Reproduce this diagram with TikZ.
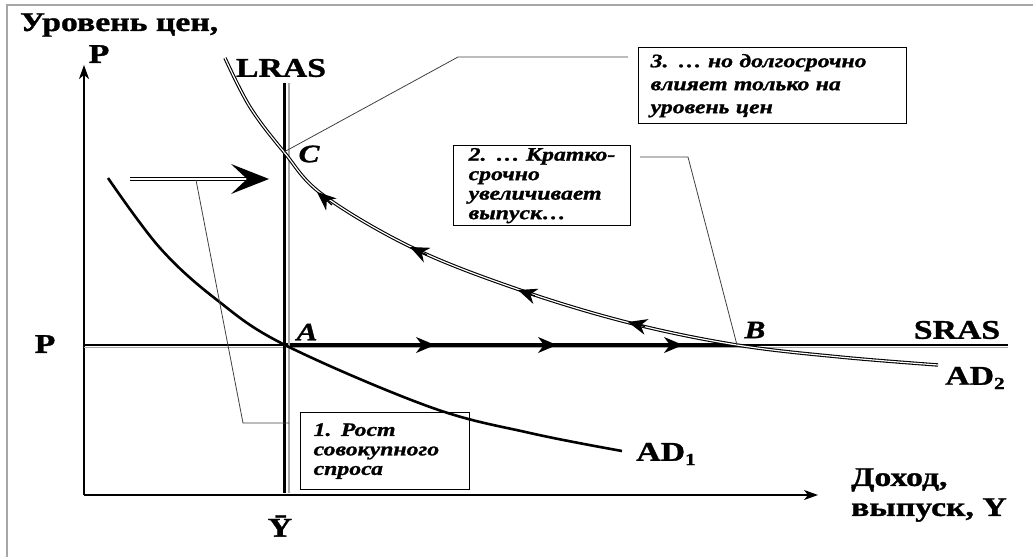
\documentclass[tikz,border=0pt]{standalone}
\usepackage{fontspec}
\setmainfont{Liberation Serif}[FakeStretch=1.25, BoldFeatures={FakeBold=1.2}, BoldItalicFeatures={FakeBold=1.2}]
\usetikzlibrary{arrows.meta}
\begin{document}
\begin{tikzpicture}[x=1pt,y=-1pt,
  lbl/.style={font=\fontsize{27}{30}\selectfont\bfseries, inner sep=0pt},
  ptl/.style={font=\fontsize{25}{25}\selectfont\bfseries\itshape, inner sep=0pt},
  callbox/.style={draw, line width=1.3pt, anchor=north west, align=left, inner ysep=0pt},
  cfont/.style={font=\fontsize{19}{19.5}\selectfont\bfseries\itshape},
  leader/.style={draw=black!75, line width=0.8pt},
  axis/.style={line width=1.6pt, -{Stealth[length=14pt,width=10pt,inset=4pt]}},
  flow/.style={line width=1.3pt, -{Stealth[length=19pt,width=16pt,inset=6pt]}},
  dline/.style={double=white, double distance=1.2pt, line width=1.1pt}
]
\useasboundingbox (0,0) rectangle (1033,557);
% frame
\draw[gray!70, line width=1.2pt] (7,557) -- (7,5) -- (1033,5);

% coordinates
\coordinate (O) at (84,495);
\coordinate (A) at (285,345);
\coordinate (B) at (737,345);
\coordinate (C) at (284,152);

% axes
\draw[axis] (O) -- (84,65);
\draw[axis] (O) -- (818,495);

% SRAS
\draw[gray!70, line width=1.2pt] (84,347.5) -- (1008,347.5);
\draw[black, line width=2pt] (84,344.5) -- (1008,344.5);
\draw[black, line width=3.4pt] (A) -- (B);

% LRAS
\draw[gray!70, line width=1.2pt] (289,83) -- (289,493);
\draw[black, line width=3.4pt] (284.5,83) -- (284.5,493);

% AD1
\draw[line width=2.6pt] plot[smooth, tension=0.6] coordinates {(108,178) (160,248) (217,300) (285,345) (430,407) (530,433) (622,451)};

% AD2
\draw[dline] plot[smooth, tension=0.6] coordinates {(225,58) (250,107) (284,152) (323,195) (413,248) (520,290) (630,323) (737,345) (840,357) (938,365)};

% arrows along AD2
\draw[flow] (332,205) -- (317,192);
\draw[flow] (427,255) -- (410,247);
\draw[flow] (535,296) -- (518,290);
\draw[flow] (645,326.5) -- (628,322);

% arrows along SRAS
\draw[flow] (412,345) -- (435,345);
\draw[flow] (534,345) -- (557,345);
\draw[flow] (660,345) -- (683,345);

% big shift arrow
\draw[dline, line width=1.1pt, double distance=2.4pt] (130,179) -- (248,179);
\fill (269,179) -- (231,164) -- (247,179) -- (231,194) -- cycle;

% labels
\node[lbl, anchor=west] (ylab) at (20,25) {Уровень цен,};
\node[lbl] (ptop) at (99,54) {P};
\node[lbl] (lras) at (281,68) {LRAS};
\node[ptl] (clab) at (309,154) {C};
\node[ptl] (alab) at (307,332) {A};
\node[ptl] (blab) at (755,330) {B};
\node[lbl] (sras) at (957,330) {SRAS};
\node[lbl] (ad2) at (975,378) {AD\raisebox{-0.35ex}{\fontsize{17}{17}\selectfont 2}};
\node[lbl] (ad1) at (666,454) {AD\raisebox{-0.35ex}{\fontsize{17}{17}\selectfont 1}};
\node[lbl] (pleft) at (45,344) {P};
\node[lbl] (ybar) at (280,526) {\=Y};
\node[lbl, anchor=west, align=left] (xlab) at (851,495) {Доход,\\выпуск, Y};

% callouts
\node[callbox, cfont, minimum width=169pt, minimum height=77pt, text width=143pt, inner xsep=13pt] (box1) at (300,412)
  {1. Рост\\совокупного\\спроса};
\node[callbox, cfont, minimum width=177pt, minimum height=80pt, text width=147pt, inner xsep=15pt] (box2) at (453,145)
  {2. … Кратко-\\срочно\\увеличивает\\выпуск…};
\node[callbox, font=\fontsize{19}{23}\selectfont\bfseries\itshape, minimum width=268pt, minimum height=76pt, text width=244pt, inner xsep=12pt] (box3) at (638,47)
  {3. … но долгосрочно\\влияет только на\\уровень цен};

% leaders
\coordinate (l1a) at (196,180);
\coordinate (l1b) at (243,423);
\coordinate (l1c) at (289,423);
\draw[leader] (l1a) -- (l1b) -- (l1c);
\coordinate (l2a) at (640,157);
\coordinate (l2b) at (688,157);
\draw[leader] (l2a) -- (l2b) -- (B);
\coordinate (l3a) at (628,57);
\coordinate (l3b) at (458,57);
\draw[leader] (l3a) -- (l3b) -- (C);
\end{tikzpicture}
\end{document}
